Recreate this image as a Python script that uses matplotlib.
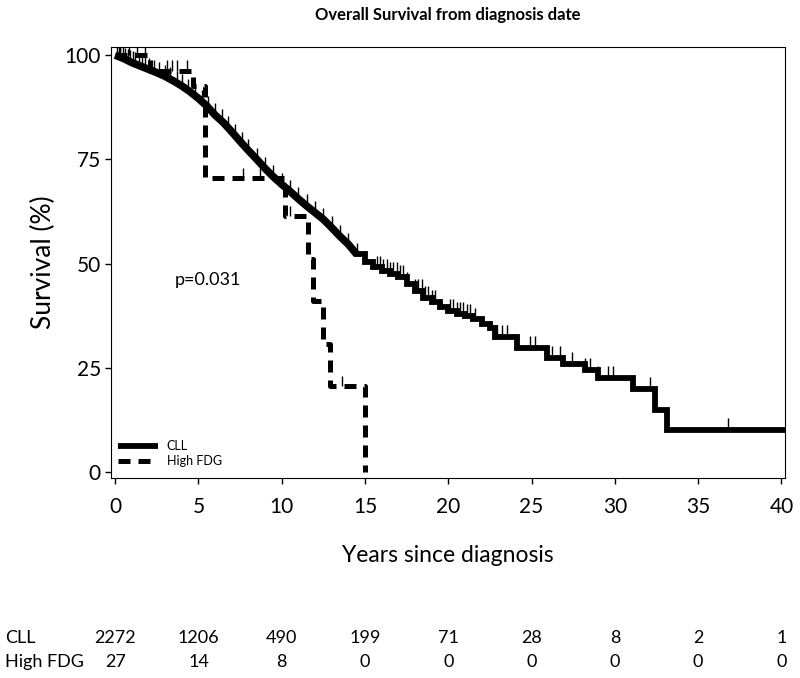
import numpy as np
import matplotlib
matplotlib.use("Agg")
import matplotlib.pyplot as plt
import matplotlib.transforms as mtransforms

plt.rcParams['font.family'] = ['Lato', 'DejaVu Sans']

# CLL curve (years, survival %)
# dense early part: many small events, looks like a continuous band
cll_early_t = [0, 0.5, 1, 1.5, 2, 2.5, 3, 3.5, 4, 4.5, 5, 5.5, 6, 6.5, 7, 7.5,
               8, 8.5, 9, 9.5, 10, 10.5, 11, 11.5, 12, 12.5, 13, 13.5, 14, 14.5]
cll_early_s = [100, 99.2, 98.2, 97.4, 96.6, 95.8, 94.9, 93.8, 92.6, 91.2, 89.6,
               87.8, 85.6, 83.8, 81.6, 79.3, 77.1, 75.0, 72.8, 70.8, 69.0, 67.3,
               65.5, 63.8, 62.2, 60.6, 58.6, 56.5, 54.6, 52.2]
# later part: visible steps
cll_t = [14.5, 15, 15.5, 16, 16.5, 17, 17.5, 18, 18.5, 19, 19.5, 20, 20.5, 21,
         21.5, 22, 22.5, 22.8, 24.1, 25.9, 26.9, 28.2, 29.0, 31.1, 32.4, 33.1,
         40.3]
cll_s = [52.2, 50.3, 49.1, 48.2, 47.5, 46.8, 45.2, 43.4, 41.8, 40.8, 39.6, 38.6,
         37.9, 37.4, 36.6, 35.5, 34.6, 32.4, 29.7, 27.3, 25.9, 24.5, 22.5, 19.9,
         14.9, 10.1, 10.1]
cll_censor = [0.1, 0.2, 0.3, 0.45, 0.6, 0.75, 0.9, 1.05, 1.2, 1.4, 1.6, 1.8,
              2.0, 2.3, 2.6, 3.0, 3.3, 3.7, 4.0, 4.4, 4.8, 5.2, 5.6, 6.0, 6.4,
              6.8, 7.2, 7.6, 8.0, 8.5, 9.0, 9.5, 10.0, 10.5, 11.0, 11.5, 12.0,
              12.5, 13.0, 13.5, 14.0, 14.5, 15.0, 15.7, 15.9, 16.1, 16.3, 16.5,
              16.7, 16.9, 17.1, 17.3, 17.5, 18.0, 18.2, 18.4, 18.6, 18.8, 19.0,
              19.2, 20.1, 20.3, 20.5, 20.7, 20.9, 21.1, 21.3, 21.6, 22.9, 23.2,
              23.5, 24.9, 25.2, 26.2, 26.7, 27.4, 28.2, 28.5, 29.0, 29.6, 29.9,
              32.1, 36.8]

fdg_t = [0, 2.1, 4.7, 5.4, 10.2, 11.6, 11.9, 12.5, 12.9, 15.0]
fdg_s = [100, 96.3, 92.6, 70.4, 61.3, 51.0, 41.0, 30.7, 20.5, 0]
fdg_censor = [0.3, 0.8, 1.3, 1.8, 3.1, 3.4, 3.7, 4.3, 7.7, 8.7, 10.5, 13.6]

# numbers at risk
risk_times = [0, 5, 10, 15, 20, 25, 30, 35, 40]
risk_cll = [2272, 1206, 490, 199, 71, 28, 8, 2, 1]
risk_fdg = [27, 14, 8, 0, 0, 0, 0, 0, 0]


def step_value(ts, ss, t):
    idx = np.searchsorted(ts, t, side='right') - 1
    return np.asarray(ss)[idx]


def cll_value(t):
    t = np.asarray(t)
    early = np.interp(t, cll_early_t, cll_early_s)
    late = step_value(cll_t, cll_s, np.clip(t, cll_t[0], None))
    return np.where(t <= cll_t[0], early, late)


fig = plt.figure(figsize=(8, 6.78), dpi=100)
ax = fig.add_axes([0.139, 0.295, 0.842, 0.636])

ax.plot(cll_early_t, cll_early_s, color='black', lw=5.5,
        solid_capstyle='butt', label='CLL')
ax.plot(cll_t, cll_s, drawstyle='steps-post', color='black', lw=4.2,
        solid_joinstyle='miter')
ax.plot(fdg_t, fdg_s, drawstyle='steps-post', color='black', lw=3.6,
        dashes=(2.4, 1.6), label='High FDG')

cy = cll_value(cll_censor)
ax.vlines(cll_censor, cy, cy + 2.8, color='black', lw=1)
fy = step_value(fdg_t, fdg_s, fdg_censor)
ax.vlines(fdg_censor, fy, fy + 2.6, color='black', lw=1)

ax.set_xlim(-0.24, 40.2)
ax.set_ylim(-1.45, 102)
ax.set_xticks(risk_times)
ax.set_yticks([0, 25, 50, 75, 100])
ax.tick_params(direction='out', length=4.5, width=1, labelsize=15)
ax.tick_params(axis='x', pad=9)
ax.tick_params(axis='y', pad=3)

ax.text(3.6, 46, 'p=0.031', fontsize=13, va='center', ha='left')

leg = ax.legend(loc='lower left', bbox_to_anchor=(0.01, 0.025), frameon=False,
                fontsize=9, handlelength=3.2, handletextpad=0.7,
                labelspacing=0.25, borderpad=0, borderaxespad=0)
leg.get_lines()[0].set_linewidth(4.2)

fig.text(0.56, 1 - 15 / 678, 'Overall Survival from diagnosis date',
         ha='center', va='center', fontsize=12, fontweight='bold')
fig.text(0.56, 1 - 556 / 678, 'Years since diagnosis', ha='center',
         va='center', fontsize=16.5)
fig.text(0.054, 1 - 262 / 678, 'Survival (%)', ha='center', va='center',
         rotation=90, fontsize=19)

# risk table under the plot, x in data units
trans = mtransforms.blended_transform_factory(ax.transData, fig.transFigure)
row_y = [1 - 638 / 678, 1 - 662 / 678]
fig.text(5 / 800, row_y[0], 'CLL', ha='left', va='center', fontsize=13)
fig.text(5 / 800, row_y[1], 'High FDG', ha='left', va='center', fontsize=13)
for t, a, b in zip(risk_times, risk_cll, risk_fdg):
    ax.text(t, row_y[0], str(a), transform=trans, ha='center', va='center',
            fontsize=13, clip_on=False)
    ax.text(t, row_y[1], str(b), transform=trans, ha='center', va='center',
            fontsize=13, clip_on=False)

fig.savefig('out.png', dpi=100)
